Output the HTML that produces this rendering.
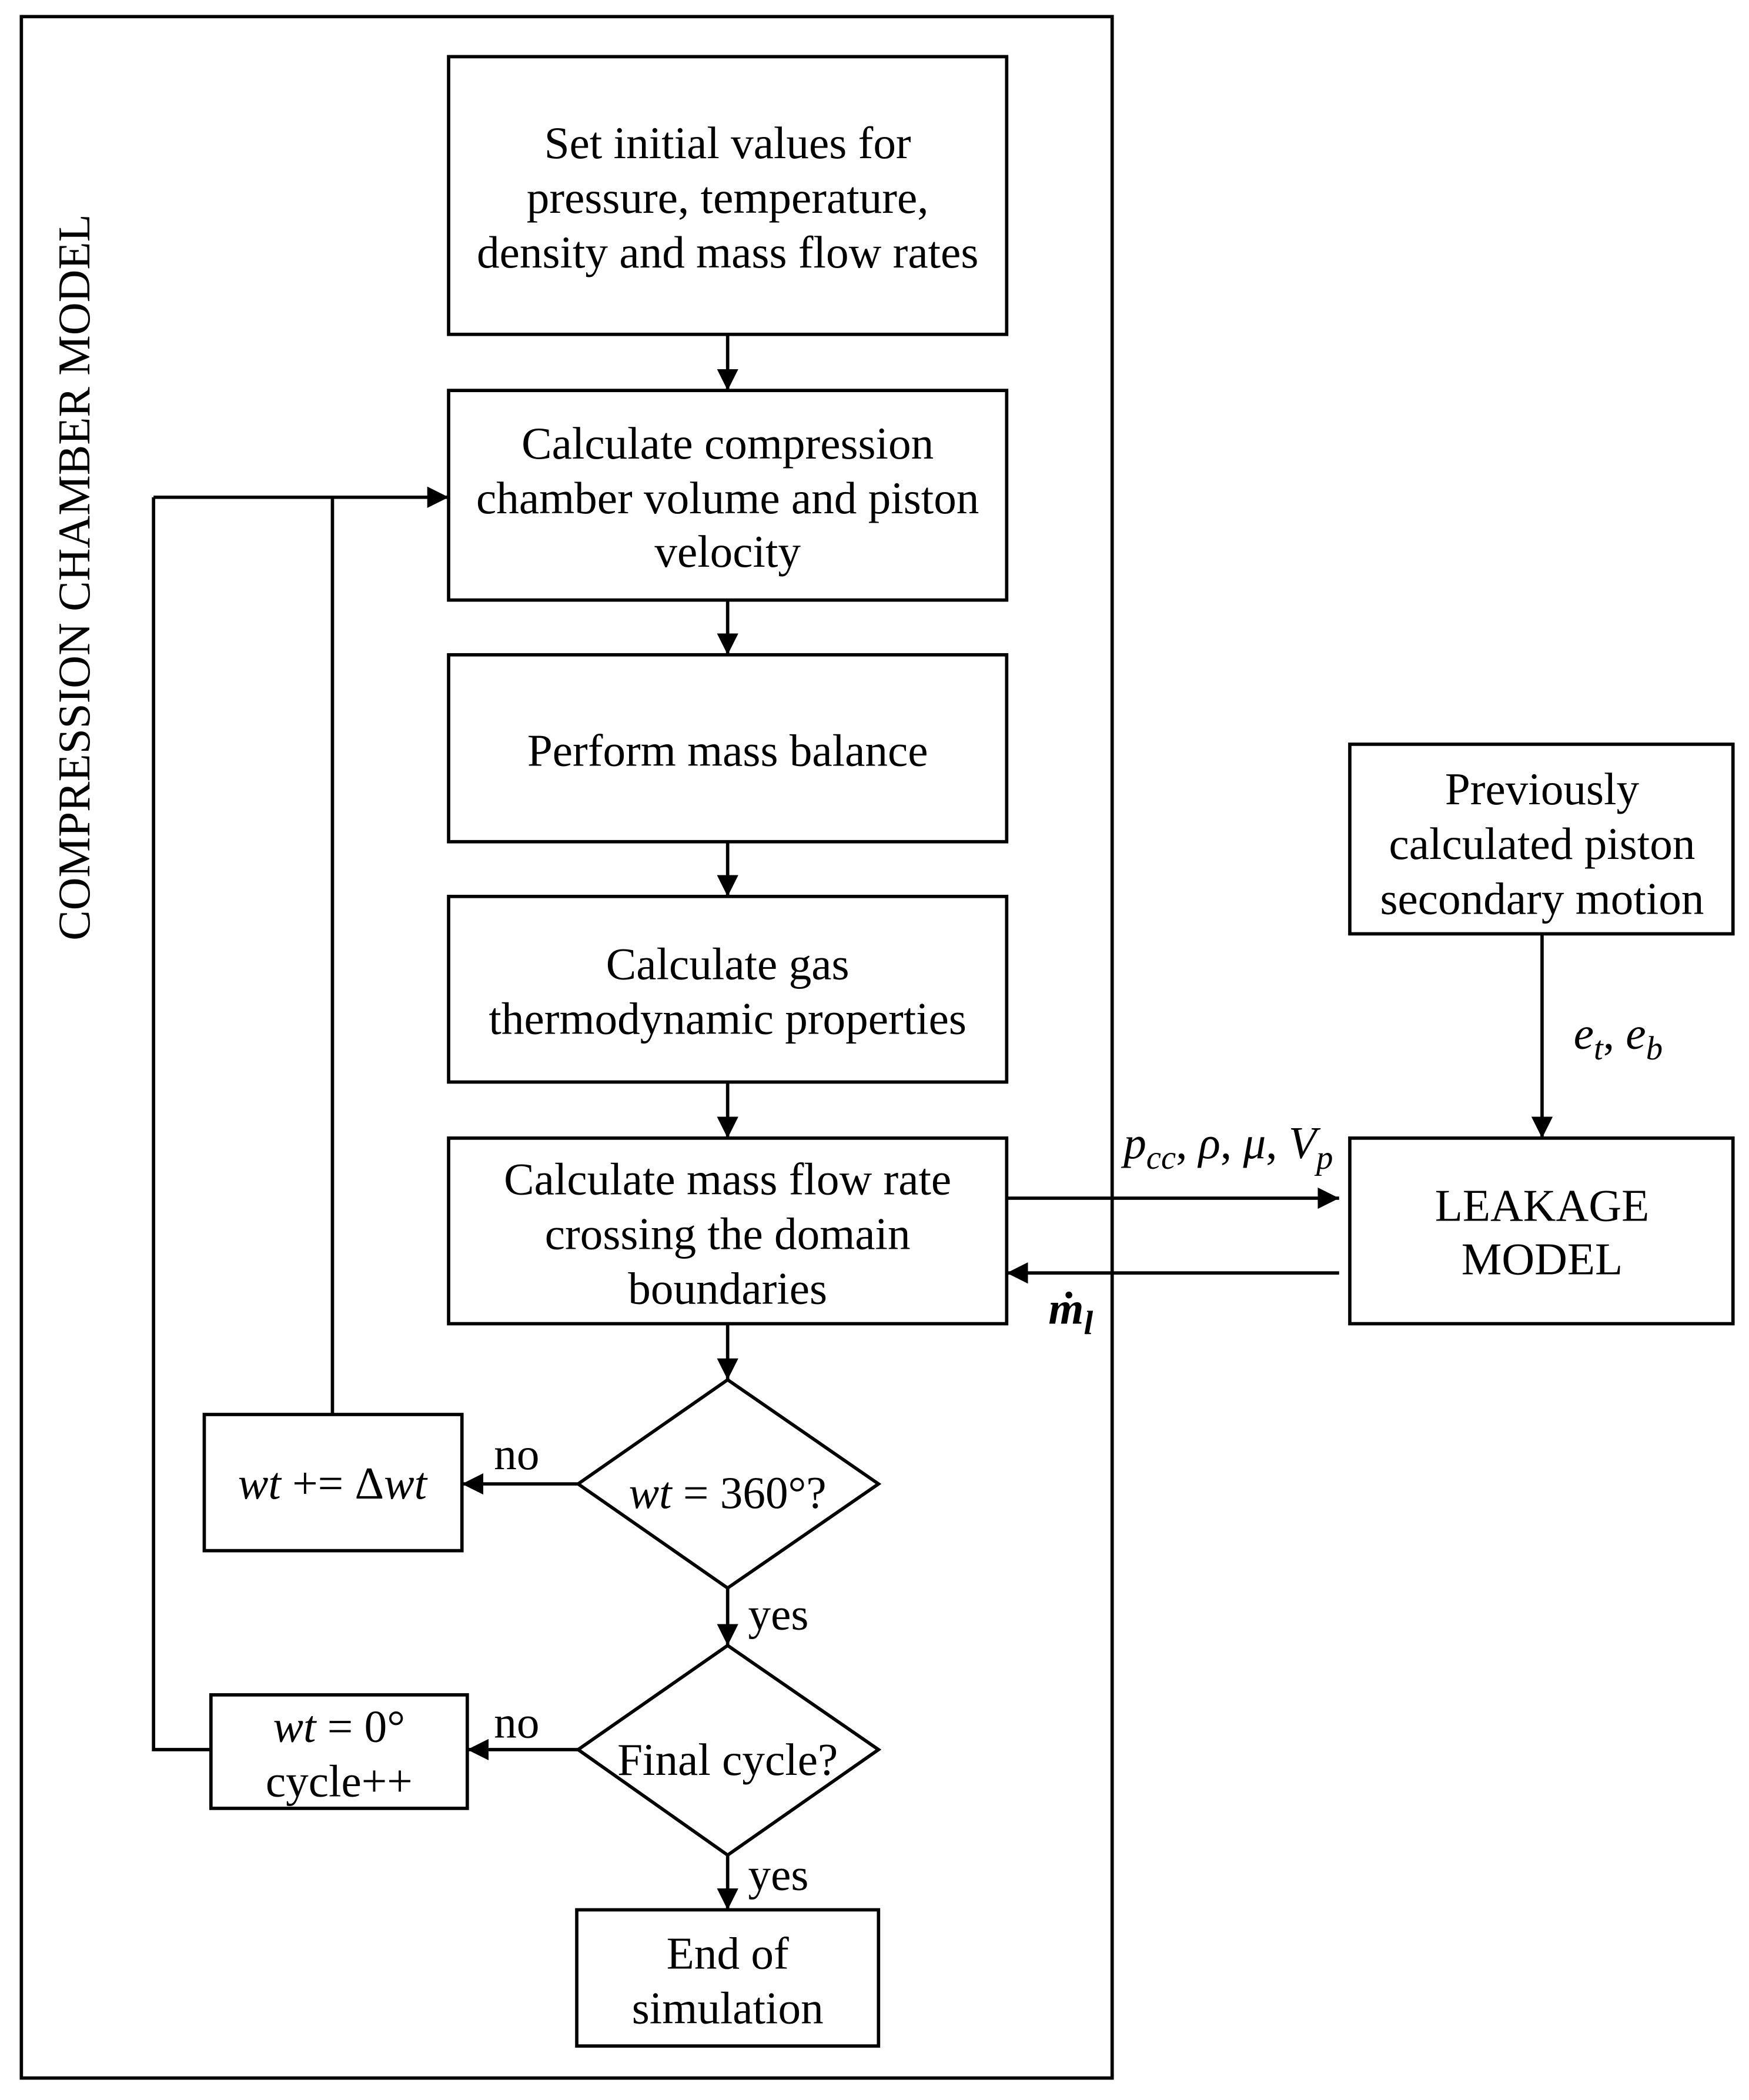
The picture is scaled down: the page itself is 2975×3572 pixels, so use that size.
<!DOCTYPE html>
<html><head><meta charset="utf-8"><style>
html,body{margin:0;padding:0;background:#fff}
svg{display:block}
text{font-family:"Liberation Serif",serif;font-size:34px;fill:#000}
.i{font-style:italic}
</style></head><body>
<svg width="2975" height="3572" viewBox="0 0 1310 1572" xmlns="http://www.w3.org/2000/svg">
<defs>
<marker id="b" viewBox="0 0 10 10" markerWidth="16" markerHeight="16" refX="10" refY="5" orient="auto" markerUnits="userSpaceOnUse"><path d="M0,0 L10,5 L0,10 z" fill="#000"/></marker></defs>
<g fill="none" stroke="#000" stroke-width="2.5">
<rect x="16" y="12" width="817" height="1544"/>
<rect x="336" y="42" width="418" height="208"/>
<rect x="336" y="292" width="418" height="157"/>
<rect x="336" y="490" width="418" height="140"/>
<rect x="336" y="671" width="418" height="139"/>
<rect x="336" y="852" width="418" height="139"/>
<polygon points="545,1033 658,1111 545,1189 433,1111"/>
<polygon points="545,1232 658,1310 545,1389 433,1310"/>
<rect x="153" y="1059" width="193" height="102"/>
<rect x="158" y="1269" width="192" height="85"/>
<rect x="432" y="1430" width="226" height="102"/>
<rect x="1011" y="557" width="287" height="142"/>
<rect x="1011" y="852" width="287" height="139"/>
<g marker-end="url(#b)">
<line x1="545" y1="250" x2="545" y2="292"/>
<line x1="545" y1="449" x2="545" y2="490"/>
<line x1="545" y1="630" x2="545" y2="671"/>
<line x1="545" y1="810" x2="545" y2="852"/>
<line x1="545" y1="991" x2="545" y2="1033"/>
<line x1="545" y1="1189" x2="545" y2="1232"/>
<line x1="545" y1="1389" x2="545" y2="1430"/>
<line x1="433" y1="1111" x2="346" y2="1111"/>
<line x1="433" y1="1310" x2="350" y2="1310"/>
<line x1="115" y1="372" x2="336" y2="372"/>
<line x1="1155" y1="699" x2="1155" y2="852"/>
<line x1="754" y1="897" x2="1003" y2="897"/>
<line x1="1003" y1="953" x2="754" y2="953"/>
</g>
<polyline points="249,1059 249,372"/>
<polyline points="158,1310 115,1310 115,372"/>
</g>
<g text-anchor="middle">
<text x="545" y="118">Set initial values for</text>
<text x="545" y="159">pressure, temperature,</text>
<text x="545" y="200">density and mass flow rates</text>
<text x="545" y="343">Calculate compression</text>
<text x="545" y="384">chamber volume and piston</text>
<text x="545" y="424">velocity</text>
<text x="545" y="573">Perform mass balance</text>
<text x="545" y="733">Calculate gas</text>
<text x="545" y="774">thermodynamic properties</text>
<text x="545" y="894">Calculate mass flow rate</text>
<text x="545" y="935">crossing the domain</text>
<text x="545" y="976">boundaries</text>
<text x="545" y="1129"><tspan class="i">wt</tspan> = 360°?</text>
<text x="545" y="1329">Final cycle?</text>
<text x="249" y="1122"><tspan class="i">wt</tspan> += Δ<tspan class="i">wt</tspan></text>
<text x="254" y="1304"><tspan class="i">wt</tspan> = 0°</text>
<text x="254" y="1345">cycle++</text>
<text x="545" y="1474">End of</text>
<text x="545" y="1515">simulation</text>
<text x="1155" y="602">Previously</text>
<text x="1155" y="643">calculated piston</text>
<text x="1155" y="684">secondary motion</text>
<text x="1155" y="914">LEAKAGE</text>
<text x="1155" y="954">MODEL</text>
<text x="387" y="1100">no</text>
<text x="387" y="1301">no</text>
<text x="583" y="1220">yes</text>
<text x="583" y="1415">yes</text>
<text x="1212" y="785" class="i">e<tspan font-size="25" dy="8">t</tspan><tspan dy="-8" font-style="normal">, </tspan>e<tspan font-size="25" dy="8">b</tspan></text>
<text x="920" y="867" class="i">p<tspan font-size="25" dy="8">cc</tspan><tspan dy="-8" font-style="normal">, </tspan>ρ<tspan font-style="normal">, </tspan>μ<tspan font-style="normal">, </tspan>V<tspan font-size="25" dy="8">p</tspan></text>
<text x="802" y="991" class="i" font-weight="bold">ṁ<tspan font-size="25" dy="8">l</tspan></text>
<text transform="translate(67,432) rotate(-90)">COMPRESSION CHAMBER MODEL</text>
</g>
</svg>
</body></html>
